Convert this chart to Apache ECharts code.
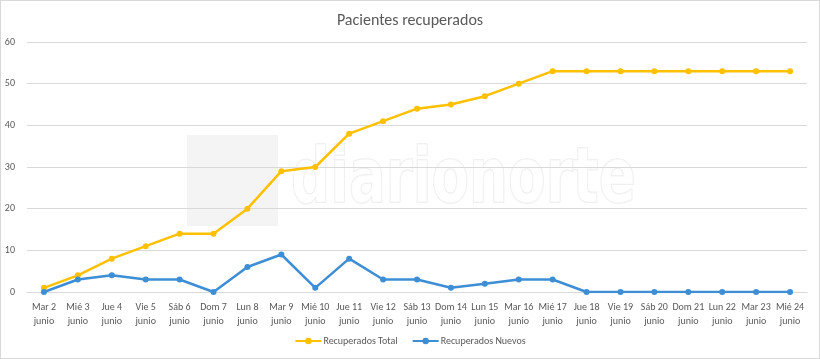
<!DOCTYPE html>
<html><head><meta charset="utf-8">
<script src="https://cdn.jsdelivr.net/npm/echarts@6/dist/echarts.min.js"></script>
<style>html,body{margin:0;padding:0;background:#fff}#c{width:818px;height:357px;border:1px solid #d9d9d9}</style>
</head><body><div id="c"></div>
<script>
const categories = ["Mar 2\njunio","Mié 3\njunio","Jue 4\njunio","Vie 5\njunio","Sáb 6\njunio","Dom 7\njunio","Lun 8\njunio","Mar 9\njunio","Mié 10\njunio","Jue 11\njunio","Vie 12\njunio","Sáb 13\njunio","Dom 14\njunio","Lun 15\njunio","Mar 16\njunio","Mié 17\njunio","Jue 18\njunio","Vie 19\njunio","Sáb 20\njunio","Dom 21\njunio","Lun 22\njunio","Mar 23\njunio","Mié 24\njunio"];
const recuperadosTotal = [1,4,8,11,14,14,20,29,30,38,41,44,45,47,50,53,53,53,53,53,53,53,53];
const recuperadosNuevos = [0,3,4,3,3,0,6,9,1,8,3,3,1,2,3,3,0,0,0,0,0,0,0];
const yTicks = [0,10,20,30,40,50,60];
const chart = echarts.init(document.getElementById('c'));
const font = 'Calibri, "Open Sans", "Liberation Sans", sans-serif';
chart.setOption({
  animation:false,
  textStyle:{fontFamily:font},
  title:{text:'Pacientes recuperados',left:'center',top:7,textStyle:{fontSize:16,fontWeight:'normal',color:'#595959',fontFamily:font}},
  graphic:[
    {type:'rect',z:-10,shape:{x:186,y:134,width:91,height:91},style:{fill:'rgba(0,0,0,0.045)'}},
    {type:'text',z:-10,x:290,y:143,scaleX:0.8,style:{text:'diarionorte',font:'bold 76px "DejaVu Sans Condensed", sans-serif',fill:'rgba(255,255,255,0.6)',stroke:'#ececec',lineWidth:1.5}}
  ],
  grid:{left:26,right:12,top:41,bottom:66},
  legend:{bottom:7,itemGap:14,itemWidth:26,itemHeight:8,textStyle:{fontSize:10,color:'#595959',padding:[0,0,0,-3]},
    data:['Recuperados Total','Recuperados Nuevos']},
  xAxis:{type:'category',data:categories,boundaryGap:true,
    axisLine:{lineStyle:{color:'#d9d9d9'}},axisTick:{show:false},
    axisLabel:{interval:0,fontSize:10,color:'#595959',lineHeight:14,margin:8}},
  yAxis:{type:'value',min:yTicks[0],max:yTicks[yTicks.length-1],interval:10,
    axisLine:{show:false},axisTick:{show:false},
    axisLabel:{fontSize:10,color:'#595959',margin:12},
    splitLine:{lineStyle:{color:'#d9d9d9'}}},
  series:[
    {name:'Recuperados Total',type:'line',data:recuperadosTotal,color:'#FFC000',symbol:'circle',symbolSize:6,lineStyle:{width:2.5}},
    {name:'Recuperados Nuevos',type:'line',data:recuperadosNuevos,color:'#3E8ED6',symbol:'circle',symbolSize:6,lineStyle:{width:2.5}}
  ]
});
</script></body></html>
